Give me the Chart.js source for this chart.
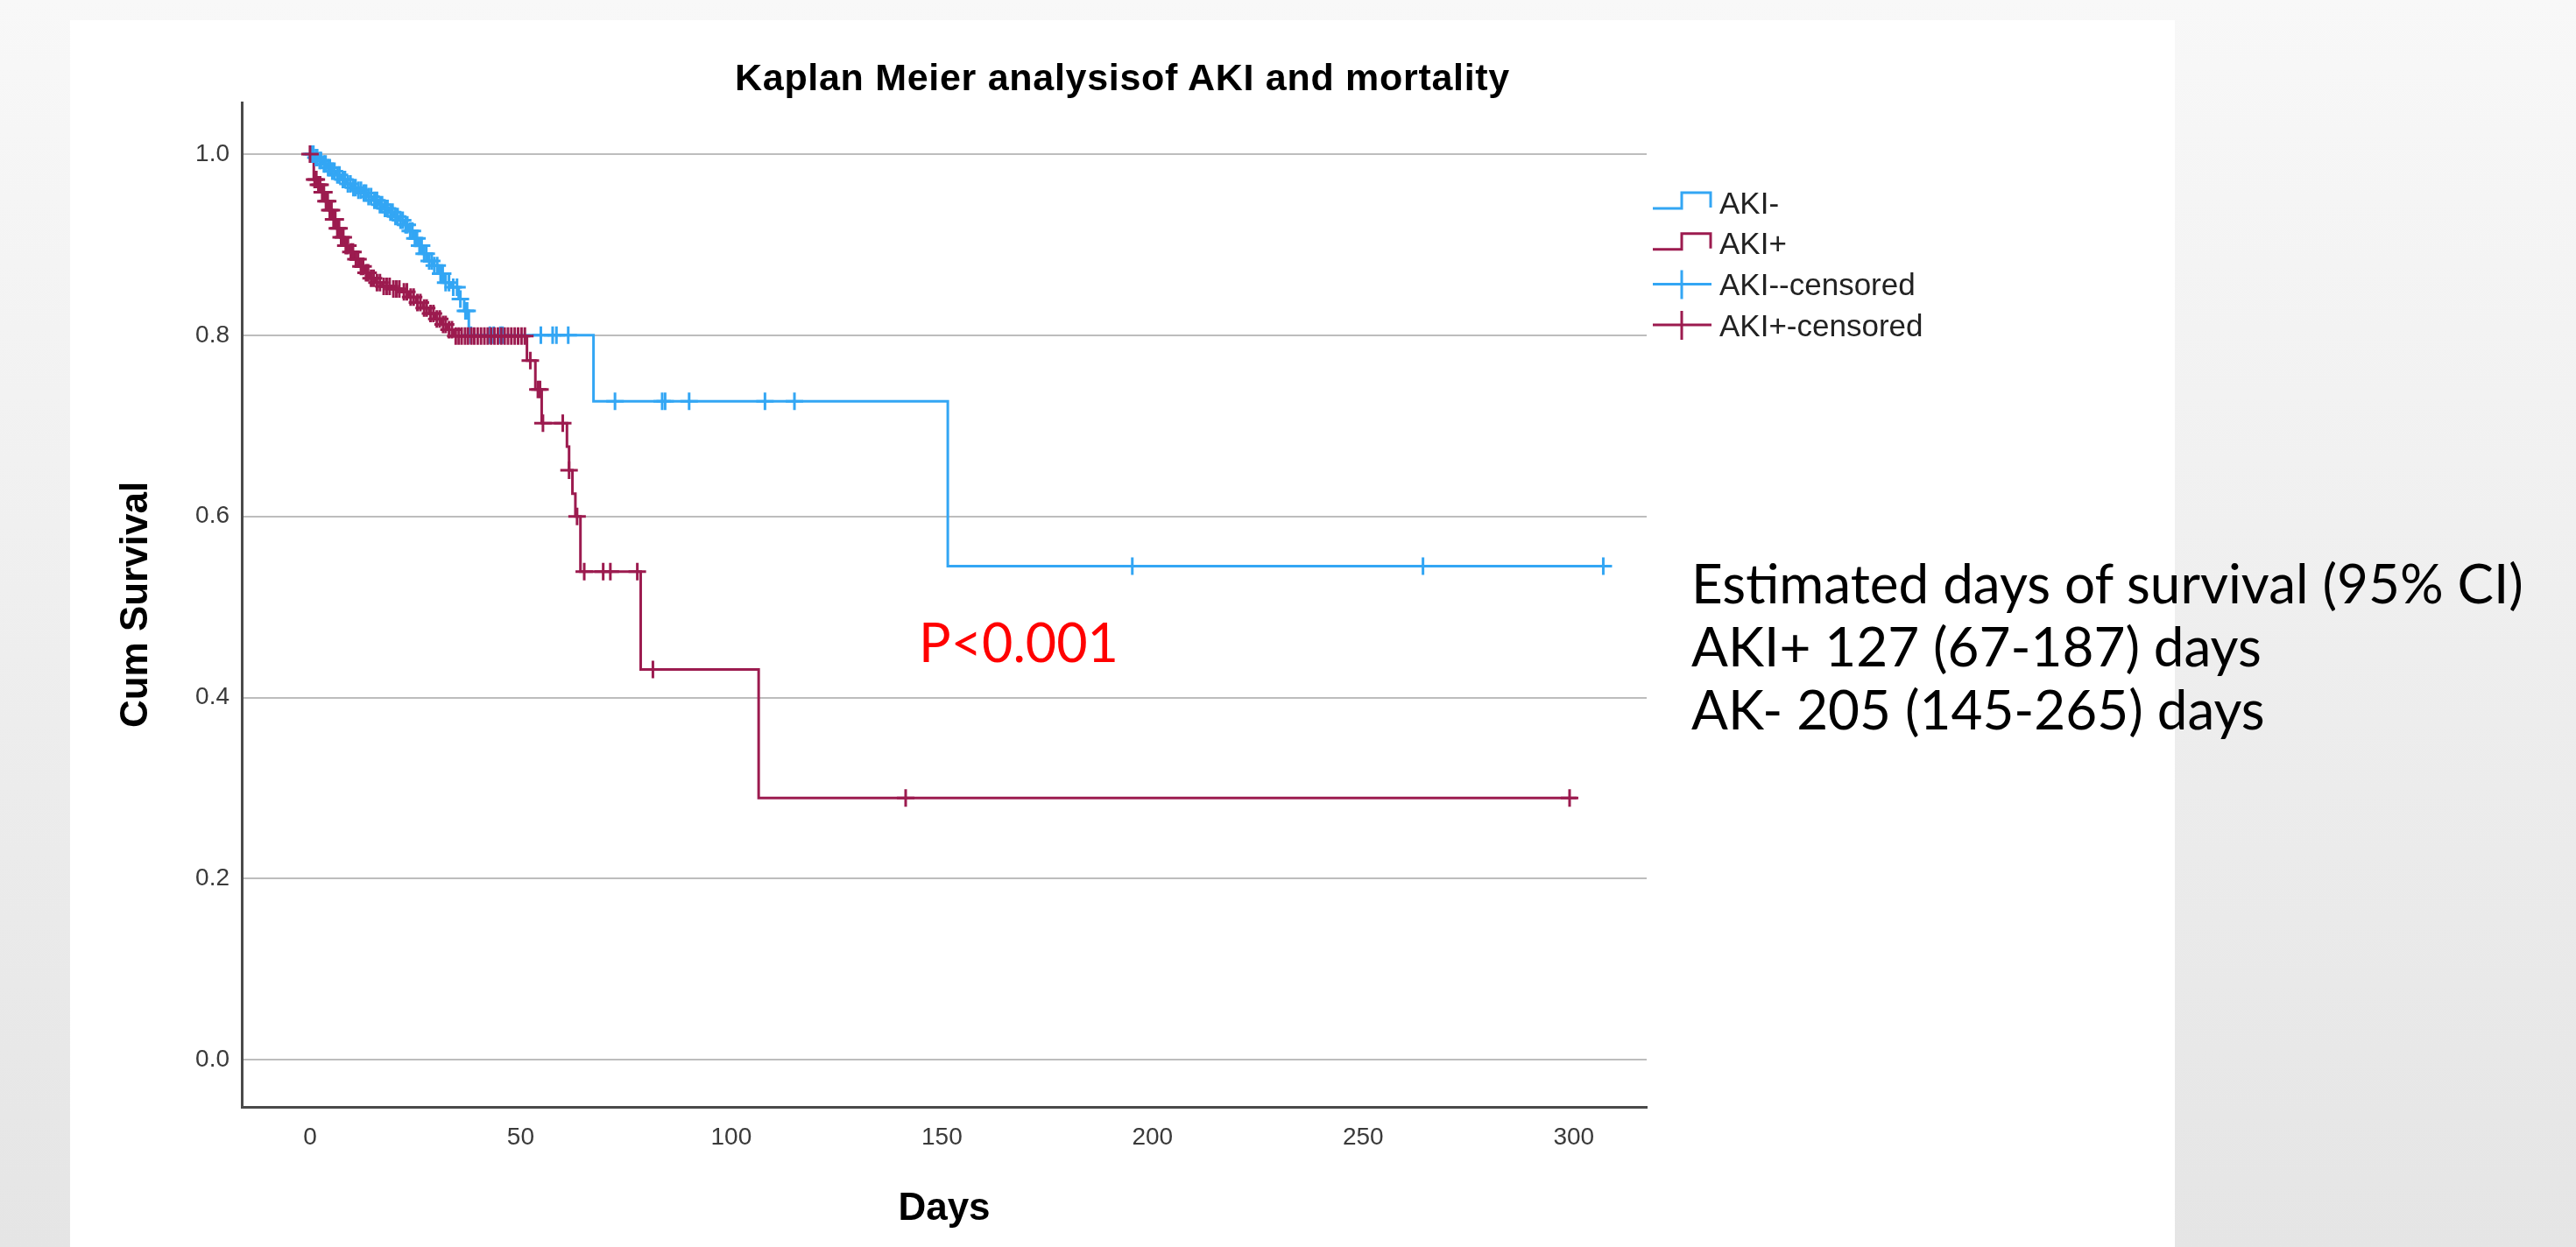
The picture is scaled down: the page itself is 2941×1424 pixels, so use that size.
<!DOCTYPE html>
<html>
<head>
<meta charset="utf-8">
<title>Kaplan Meier analysis of AKI and mortality</title>
<script src="https://cdn.jsdelivr.net/npm/chart.js@4.4.1/dist/chart.umd.min.js"></script>
<style>
    html, body {
        margin: 0;
        padding: 0;
    }
    body {
        width: 2941px;
        height: 1424px;
        overflow: hidden;
        position: relative;
        background: linear-gradient(#f8f8f8, #e5e5e5);
        font-family: 'Liberation Sans', Arial, sans-serif;
    }
    .panel {
        position: absolute;
        left: 80px;
        top: 23px;
        width: 2403px;
        height: 1401px;
        background: #ffffff;
    }
    #kmChart {
        position: absolute;
        left: 0;
        top: 0;
    }
    .chart-title {
        position: absolute;
        left: 80px;
        width: 2403px;
        top: 67px;
        text-align: center;
        font-weight: bold;
        font-size: 43px;
        line-height: 43px;
        letter-spacing: 0.7px;
        color: #000;
    }
    .p-value {
        position: absolute;
        left: 1049px;
        top: 702px;
        font-family: Lato, 'Open Sans', sans-serif;
        font-size: 61px;
        line-height: 61px;
        color: #ff0000;
        white-space: nowrap;
    }
    .survival-note {
        position: absolute;
        left: 1931px;
        top: 629px;
        font-family: Lato, 'Open Sans', sans-serif;
        font-size: 62px;
        line-height: 72px;
        color: #000;
        white-space: nowrap;
    }
</style>
</head>
<body>
<div class="panel"></div>
<canvas id="kmChart" width="2941" height="1424"></canvas>
<div class="chart-title">Kaplan Meier analysisof AKI and mortality</div>
<div class="p-value">P&lt;0.001</div>
<div class="survival-note">
    Estimated days of survival (95% CI)<br>
    AKI+ 127 (67-187) days<br>
    AK- 205 (145-265) days
</div>

<script>
// ==============================
// KAPLAN MEIER - AKI x MORTALIDADE
// ==============================

// Eixos
const xTickValues = [0, 50, 100, 150, 200, 250, 300];
const yTickValues = [0.0, 0.2, 0.4, 0.6, 0.8, 1.0];

// AKI- (curva de sobrevida, dias / sobrevida acumulada)
const akiNegDays = [0, 1.2, 2.0, 3.0, 4.0, 5.0, 6.2, 7.5, 8.7, 10.0, 11.2, 12.5, 13.6, 15.0, 16.3, 17.5, 18.8, 20.0, 21.2, 22.4, 23.5, 24.6, 25.7, 26.8, 28.0, 29.2, 30.6, 31.8, 33.5, 35.3, 36.6, 37.7, 67.3, 151.4, 308.5];
const akiNegSurv = [1.000, 0.996, 0.993, 0.989, 0.985, 0.981, 0.977, 0.972, 0.967, 0.963, 0.960, 0.957, 0.953, 0.949, 0.944, 0.940, 0.936, 0.931, 0.927, 0.922, 0.915, 0.907, 0.899, 0.890, 0.882, 0.877, 0.868, 0.858, 0.853, 0.840, 0.827, 0.800, 0.727, 0.545, 0.545];

// AKI+ (curva de sobrevida)
const akiPosDays = [0, 0.9, 1.8, 2.7, 3.6, 4.5, 5.4, 6.3, 7.2, 8.2, 9.4, 10.6, 11.8, 13.0, 14.2, 15.6, 17.2, 19.5, 22.0, 23.6, 25.2, 26.8, 28.3, 29.8, 31.3, 32.7, 34.2, 51.5, 53.5, 55.0, 61.0, 61.5, 62.3, 63.0, 64.2, 78.5, 106.5, 300.7];
const akiPosSurv = [1.000, 0.972, 0.966, 0.958, 0.948, 0.938, 0.928, 0.918, 0.908, 0.899, 0.892, 0.884, 0.876, 0.869, 0.863, 0.858, 0.854, 0.851, 0.848, 0.842, 0.836, 0.830, 0.824, 0.818, 0.812, 0.806, 0.799, 0.772, 0.740, 0.703, 0.677, 0.651, 0.625, 0.600, 0.539, 0.431, 0.289, 0.289];

// Censurados AKI-
const akiNegCensDays = [0.4, 0.8, 1.4, 1.7, 2.3, 2.6, 3.3, 3.7, 4.3, 4.7, 5.3, 5.8, 6.5, 7.0, 7.8, 8.3, 9.0, 9.6, 10.3, 10.8, 11.5, 12.1, 12.8, 13.3, 13.9, 14.5, 15.3, 15.9, 16.6, 17.1, 17.8, 18.4, 19.1, 19.6, 20.3, 20.8, 21.5, 22.0, 22.7, 23.1, 23.8, 24.3, 24.9, 25.4, 26.0, 26.5, 27.1, 27.6, 28.3, 28.9, 29.5, 30.2, 31.0, 31.5, 32.2, 33.0, 34.0, 34.9, 35.7, 36.9, 37.3, 38.2, 42.7, 43.6, 45.2, 45.7, 54.8, 57.6, 58.5, 61.3, 72.4, 83.6, 84.3, 90.0, 108.0, 115.0, 195.2, 264.2, 307.0];
const akiNegCensSurv = [1.000, 1.000, 0.996, 0.996, 0.993, 0.993, 0.989, 0.989, 0.985, 0.985, 0.981, 0.981, 0.977, 0.977, 0.972, 0.972, 0.967, 0.967, 0.963, 0.963, 0.960, 0.960, 0.957, 0.957, 0.953, 0.953, 0.949, 0.949, 0.944, 0.944, 0.940, 0.940, 0.936, 0.936, 0.931, 0.931, 0.927, 0.927, 0.922, 0.922, 0.915, 0.915, 0.907, 0.907, 0.899, 0.899, 0.890, 0.890, 0.882, 0.882, 0.877, 0.877, 0.868, 0.868, 0.858, 0.858, 0.853, 0.853, 0.840, 0.827, 0.827, 0.800, 0.800, 0.800, 0.800, 0.800, 0.800, 0.800, 0.800, 0.800, 0.727, 0.727, 0.727, 0.727, 0.727, 0.727, 0.545, 0.545, 0.545];

// Censurados AKI+
const akiPosCensDays = [0, 1.1, 1.5, 2.0, 2.4, 2.9, 3.3, 3.8, 4.2, 4.7, 5.1, 5.6, 6.0, 6.5, 6.9, 7.4, 7.9, 8.5, 9.0, 9.7, 10.2, 10.9, 11.4, 12.1, 12.6, 13.3, 13.8, 14.5, 15.1, 15.9, 16.6, 17.5, 18.2, 18.9, 19.8, 20.5, 21.2, 22.3, 23.0, 23.9, 24.6, 25.5, 26.2, 27.1, 27.7, 28.6, 29.3, 30.1, 30.8, 31.6, 32.2, 33.0, 33.7, 34.6, 35.3, 36.0, 36.8, 37.5, 38.3, 39.0, 39.8, 40.6, 41.4, 42.2, 43.0, 43.8, 44.6, 45.4, 46.2, 47.0, 47.8, 48.6, 49.4, 50.2, 51.0, 52.3, 54.1, 54.6, 55.3, 60.0, 61.5, 63.4, 65.1, 69.6, 71.3, 77.7, 81.4, 141.4, 299.0];
const akiPosCensSurv = [1.000, 0.972, 0.972, 0.966, 0.966, 0.958, 0.958, 0.948, 0.948, 0.938, 0.938, 0.928, 0.928, 0.918, 0.918, 0.908, 0.908, 0.899, 0.899, 0.892, 0.892, 0.884, 0.884, 0.876, 0.876, 0.869, 0.869, 0.863, 0.863, 0.858, 0.858, 0.854, 0.854, 0.854, 0.851, 0.851, 0.851, 0.848, 0.848, 0.842, 0.842, 0.836, 0.836, 0.830, 0.830, 0.824, 0.824, 0.818, 0.818, 0.812, 0.812, 0.806, 0.806, 0.799, 0.799, 0.799, 0.799, 0.799, 0.799, 0.799, 0.799, 0.799, 0.799, 0.799, 0.799, 0.799, 0.799, 0.799, 0.799, 0.799, 0.799, 0.799, 0.799, 0.799, 0.799, 0.772, 0.740, 0.740, 0.703, 0.703, 0.651, 0.600, 0.539, 0.539, 0.539, 0.539, 0.431, 0.289, 0.289];

const seriesLabels = ['AKI-', 'AKI+', 'AKI--censored', 'AKI+-censored'];

const COLOR_NEG = '#33a6f4';
const COLOR_POS = '#9c1b4f';
const AXIS_FONT = "'Liberation Sans', Arial, sans-serif";

document.addEventListener('DOMContentLoaded', function() {
    createKaplanMeierChart();
});

function toPoints(days, surv) {
    return days.map((d, i) => ({ x: d, y: surv[i] }));
}

// LEGENDA (desenhada ao lado do gráfico, estilo SPSS)
const kmLegend = {
    id: 'kmLegend',
    afterDraw(chart) {
        const ctx = chart.ctx;
        const x0 = chart.chartArea.right + 7;
        const firstRow = chart.chartArea.top + 116;
        const rowGap = 46.7;

        ctx.save();
        ctx.lineWidth = 3;
        ctx.lineCap = 'butt';
        ctx.font = '35px ' + AXIS_FONT;
        ctx.textBaseline = 'middle';
        ctx.fillStyle = '#222';

        chart.data.datasets.forEach((ds, i) => {
            const cy = firstRow + i * rowGap;
            ctx.strokeStyle = ds.borderColor;
            ctx.beginPath();
            if (ds.showLine === false) {
                // censura: linha com traço vertical
                ctx.moveTo(x0, cy - 2);
                ctx.lineTo(x0 + 67, cy - 2);
                ctx.moveTo(x0 + 33, cy - 18);
                ctx.lineTo(x0 + 33, cy + 15);
            } else {
                // degrau
                ctx.moveTo(x0, cy + 5);
                ctx.lineTo(x0 + 33, cy + 5);
                ctx.lineTo(x0 + 33, cy - 13);
                ctx.lineTo(x0 + 66, cy - 13);
                ctx.lineTo(x0 + 66, cy + 4);
            }
            ctx.stroke();
            ctx.fillText(ds.label, x0 + 76, cy + 1);
        });
        ctx.restore();
    }
};

function createKaplanMeierChart() {
    const ctx = document.getElementById('kmChart');
    if (!ctx) return;

    new Chart(ctx, {
        type: 'line',
        data: {
            datasets: [
                {
                    label: seriesLabels[0],
                    data: toPoints(akiNegDays, akiNegSurv),
                    borderColor: COLOR_NEG,
                    borderWidth: 3,
                    stepped: 'before',
                    pointRadius: 0,
                    fill: false,
                    order: 3
                },
                {
                    label: seriesLabels[1],
                    data: toPoints(akiPosDays, akiPosSurv),
                    borderColor: COLOR_POS,
                    borderWidth: 3,
                    stepped: 'before',
                    pointRadius: 0,
                    fill: false,
                    order: 2
                },
                {
                    label: seriesLabels[2],
                    data: toPoints(akiNegCensDays, akiNegCensSurv),
                    borderColor: COLOR_NEG,
                    showLine: false,
                    pointStyle: 'cross',
                    pointRadius: 10,
                    pointBorderWidth: 3,
                    pointBorderColor: COLOR_NEG,
                    order: 1
                },
                {
                    label: seriesLabels[3],
                    data: toPoints(akiPosCensDays, akiPosCensSurv),
                    borderColor: COLOR_POS,
                    showLine: false,
                    pointStyle: 'cross',
                    pointRadius: 10,
                    pointBorderWidth: 3,
                    pointBorderColor: COLOR_POS,
                    order: 0
                }
            ]
        },
        options: {
            responsive: false,
            animation: false,
            events: [],
            layout: {
                padding: { left: 0, top: 117, right: 1061, bottom: 0 }
            },
            plugins: {
                legend: { display: false },
                title: { display: false },
                tooltip: { enabled: false }
            },
            scales: {
                x: {
                    type: 'linear',
                    min: -16.2,
                    max: 317.3,
                    afterBuildTicks: scale => {
                        scale.ticks = xTickValues.map(v => ({ value: v }));
                    },
                    afterFit: scale => {
                        scale.height = 160;
                    },
                    grid: { display: false, drawTicks: false },
                    border: { display: true, color: '#4a4a4a', width: 3 },
                    ticks: {
                        color: '#3a3a3a',
                        padding: 18,
                        maxRotation: 0,
                        font: { family: AXIS_FONT, size: 28 }
                    },
                    title: {
                        display: true,
                        text: 'Days',
                        color: '#000',
                        font: { family: AXIS_FONT, size: 44, weight: 'bold' },
                        padding: { top: 0, bottom: 16.6 }
                    }
                },
                y: {
                    type: 'linear',
                    min: -0.052,
                    max: 1.057,
                    afterBuildTicks: scale => {
                        scale.ticks = yTickValues.map(v => ({ value: v }));
                    },
                    afterFit: scale => {
                        scale.width = 276;
                    },
                    grid: { color: '#bdbdbd', lineWidth: 2, drawTicks: false },
                    border: { display: true, color: '#4a4a4a', width: 3 },
                    ticks: {
                        color: '#3a3a3a',
                        padding: 14,
                        font: { family: AXIS_FONT, size: 28 },
                        callback: value => Number(value).toFixed(1)
                    },
                    title: {
                        display: true,
                        text: 'Cum Survival',
                        color: '#000',
                        font: { family: AXIS_FONT, size: 44, weight: 'bold' },
                        padding: { top: 129.6, bottom: 0 }
                    }
                }
            }
        },
        plugins: [kmLegend]
    });
}
</script>
</body>
</html>
